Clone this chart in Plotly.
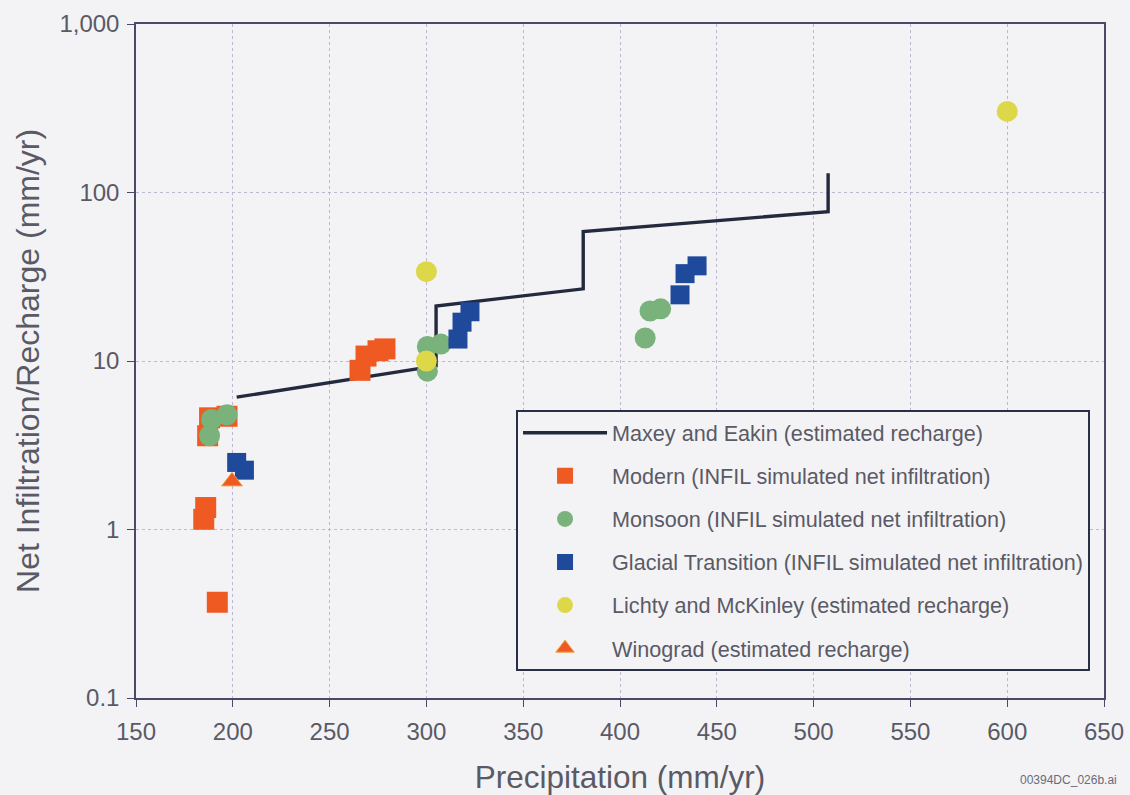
import plotly.graph_objects as go

# Maxey and Eakin estimated recharge (stepped relation)
maxey_precip = [202, 305, 305, 381, 381, 507.5, 507.5]
maxey_recharge = [6.1, 9.35, 21.2, 26.8, 58.6, 77, 130]

# INFIL simulated net infiltration
modern_precip = [186, 185, 192, 188, 197, 187, 265.7, 268.8, 275, 278.6]
modern_infil = [1.35, 1.15, 0.37, 4.6, 4.7, 3.6, 8.8, 10.7, 11.5, 11.8]

monsoon_precip = [189, 197, 188, 300.5, 307.5, 300.5, 413, 415.5, 421]
monsoon_infil = [4.5, 4.8, 3.6, 12.2, 12.6, 8.7, 13.7, 19.8, 20.4]

glacial_precip = [202, 206, 316.3, 318.4, 322.5, 431, 433.6, 439.8]
glacial_infil = [2.5, 2.25, 13.5, 17, 19.6, 24.7, 33, 36.7]

# Other estimated recharge values
lichty_precip = [300, 300, 600]
lichty_recharge = [33.9, 10.0, 303]

winograd_precip = [199.6]
winograd_recharge = [1.93]

x_ticks = [150, 200, 250, 300, 350, 400, 450, 500, 550, 600, 650]
y_ticks = [0.1, 1, 10, 100, 1000]
y_tick_labels = ["0.1", "1", "10", "100", "1,000"]

BG = "#f3f3f5"
TEXT = "#5a5a66"
FRAME = "#4a4a66"
GRID = "#b9b9cf"
FONT = "Liberation Sans, Arial, sans-serif"

fig = go.Figure()

fig.add_trace(go.Scatter(
    x=maxey_precip, y=maxey_recharge, mode="lines",
    name="Maxey and Eakin (estimated recharge)",
    line=dict(color="#232a3e", width=3.4),
    legendgroup="a",
))
fig.add_trace(go.Scatter(
    x=modern_precip, y=modern_infil, mode="markers",
    name="Modern (INFIL simulated net infiltration)",
    marker=dict(symbol="square", size=21, color="#ef5a22", line=dict(width=0)),
    legendgroup="b",
))
fig.add_trace(go.Scatter(
    x=monsoon_precip, y=monsoon_infil, mode="markers",
    name="Monsoon (INFIL simulated net infiltration)",
    marker=dict(symbol="circle", size=21, color="#79b27a", line=dict(width=0)),
    legendgroup="c",
))
fig.add_trace(go.Scatter(
    x=glacial_precip, y=glacial_infil, mode="markers",
    name="Glacial Transition (INFIL simulated net infiltration)",
    marker=dict(symbol="square", size=19, color="#1f4a9b", line=dict(width=0)),
    legendgroup="d",
))
fig.add_trace(go.Scatter(
    x=lichty_precip, y=lichty_recharge, mode="markers",
    name="Lichty and McKinley (estimated recharge)",
    marker=dict(symbol="circle", size=21, color="#dcd84a", line=dict(width=0)),
    legendgroup="e",
))
fig.add_trace(go.Scatter(
    x=winograd_precip, y=winograd_recharge, mode="markers",
    name="Winograd (estimated recharge)",
    marker=dict(symbol="triangle-up", size=18, color="#ef5a22",
                line=dict(width=1, color="#f0a040")),
    legendgroup="f",
))

# Y-axis title placed as a rotated label left of the tick labels
fig.add_annotation(
    x=-0.1116, y=0.5, xref="paper", yref="paper",
    text="Net Infiltration/Recharge (mm/yr)", textangle=-90, showarrow=False,
    xanchor="center", yanchor="middle",
    font=dict(size=32, color=TEXT, family=FONT),
)

# File tag at the lower right corner
fig.add_annotation(
    x=1.016, y=-0.121, xref="paper", yref="paper",
    text="00394DC_026b.ai", showarrow=False, xanchor="right", yanchor="middle",
    font=dict(size=12, color="#6a6a7a", family=FONT),
)

fig.update_xaxes(
    range=[150, 650], tickvals=x_ticks, automargin=False,
    showgrid=True, gridcolor=GRID, griddash="dot", gridwidth=1,
    showline=True, linecolor=FRAME, linewidth=1.5, mirror=True,
    ticks="outside", ticklen=7, tickcolor=FRAME, ticklabelstandoff=4,
    zeroline=False,
    tickfont=dict(size=24, color=TEXT),
    title=dict(text="Precipitation (mm/yr)", font=dict(size=31.5, color=TEXT), standoff=22),
)
fig.update_yaxes(
    type="log", range=[-1, 3], tickvals=y_ticks, ticktext=y_tick_labels, automargin=False,
    showgrid=True, gridcolor=GRID, griddash="dot", gridwidth=1,
    showline=True, linecolor=FRAME, linewidth=1.5, mirror=True,
    ticks="outside", ticklen=7, tickcolor=FRAME, ticklabelstandoff=3,
    zeroline=False,
    tickfont=dict(size=24, color=TEXT),
)

fig.update_layout(
    width=1130, height=795,
    margin=dict(l=136, r=26, t=24, b=97),
    paper_bgcolor=BG, plot_bgcolor=BG,
    font=dict(family=FONT, color=TEXT),
    showlegend=True,
    legend=dict(
        x=0.3926, y=0.427, xanchor="left", yanchor="top",
        bgcolor=BG, bordercolor="#2a2f48", borderwidth=2,
        font=dict(size=21.6, color="#5a5a66"),
        traceorder="grouped", tracegroupgap=12,
        itemwidth=84,
    ),
)

fig.write_html("out.html")
